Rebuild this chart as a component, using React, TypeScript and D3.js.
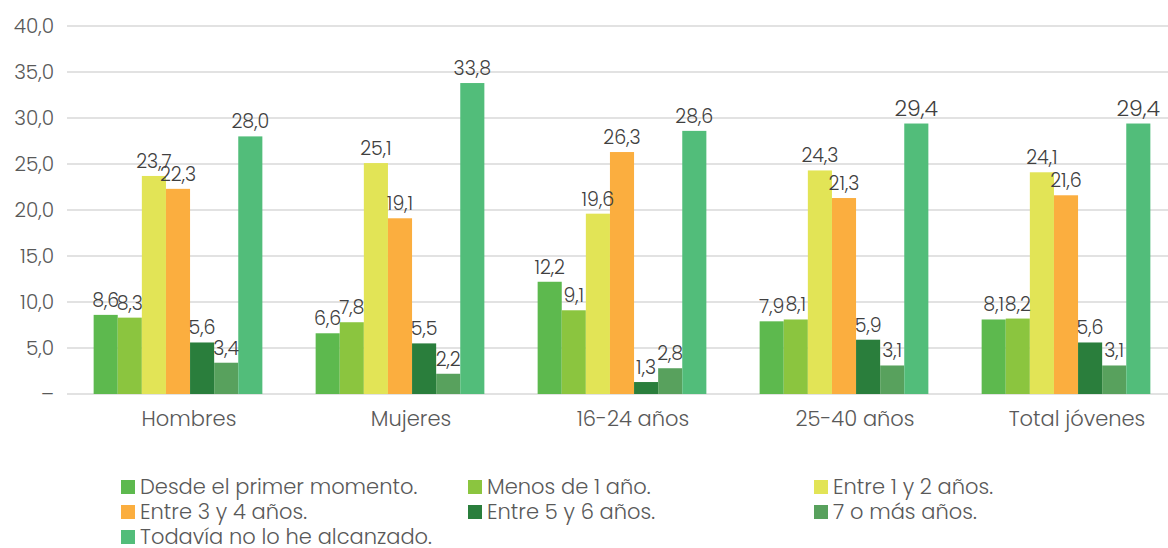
import React from "react";
import * as d3 from "d3";

const categories = ["Hombres", "Mujeres", "16-24 años", "25-40 años", "Total jóvenes"];
const seriesNames = [
  "Desde el primer momento.",
  "Menos de 1 año.",
  "Entre 1 y 2 años.",
  "Entre 3 y 4 años.",
  "Entre 5 y 6 años.",
  "7 o más años.",
  "Todavía no lo he alcanzado.",
];
const colors = ["#5DB94E", "#8BC53F", "#E2E456", "#FBAE3F", "#2A7E3C", "#58A15D", "#52BD7A"];
const desde = [8.6, 6.6, 12.2, 7.9, 8.1];
const menos1 = [8.3, 7.8, 9.1, 8.1, 8.2];
const entre12 = [23.7, 25.1, 19.6, 24.3, 24.1];
const entre34 = [22.3, 19.1, 26.3, 21.3, 21.6];
const entre56 = [5.6, 5.5, 1.3, 5.9, 5.6];
const mas7 = [3.4, 2.2, 2.8, 3.1, 3.1];
const todavia = [28.0, 33.8, 28.6, 29.4, 29.4];
const series = [desde, menos1, entre12, entre34, entre56, mas7, todavia];
const yTicks = [0, 5, 10, 15, 20, 25, 30, 35, 40];

const W = 1168;
const H = 548;
const FONT = "Poppins, 'Noto Sans', Lato, sans-serif";

export default function App() {
  const y = d3.scaleLinear().domain([0, 40]).range([394, 26]);
  const x0 = d3.scaleBand<string>().domain(categories).range([67, 1177]).paddingInner(0.24).paddingOuter(0.12);
  const x1 = d3.scaleBand<number>().domain(d3.range(7)).range([0, x0.bandwidth()]);
  const fmt = (v: number) => v.toFixed(1).replace(".", ",");

  const legendCols = [121, 468, 814];
  const legendRows = [487, 512, 537];

  return (
    <svg width={W} height={H} style={{ position: "absolute", left: 0, top: 0, background: "#fff" }} fontFamily={FONT} fontWeight={300}>
      {yTicks.map((t) => (
        <g key={t}>
          <line x1={67} x2={1168} y1={y(t)} y2={y(t)} stroke="#D9D9D9" strokeWidth={1.3} />
          <text x={54} y={y(t)} dy="0.35em" textAnchor="end" fontSize={20} fill="#595959">
            {t === 0 ? "–" : fmt(t)}
          </text>
        </g>
      ))}
      {categories.map((c, ci) => (
        <g key={c} transform={`translate(${x0(c)},0)`}>
          {series.map((s, si) => (
            <rect key={si} x={x1(si)} y={y(s[ci])} width={x1.bandwidth()} height={y(0) - y(s[ci])} fill={colors[si]} />
          ))}
          {series.map((s, si) => {
            const big = si === 6 && ci >= 3;
            return (
              <text
                key={"l" + si}
                x={(x1(si) as number) + x1.bandwidth() / 2}
                y={y(s[ci]) - 8}
                textAnchor="middle"
                fontSize={big ? 22 : 19}
                fill="#404040"
              >
                {fmt(s[ci])}
              </text>
            );
          })}
          <text x={x0.bandwidth() / 2 + 11} y={426} textAnchor="middle" fontSize={21} fill="#595959">
            {c}
          </text>
        </g>
      ))}
      {seriesNames.map((n, i) => {
        const col = i % 3;
        const row = Math.floor(i / 3);
        return (
          <g key={n} transform={`translate(${legendCols[col]},${legendRows[row]})`}>
            <rect x={0} y={-7} width={14} height={14} fill={colors[i]} />
            <text x={19} y={0} dy="0.35em" fontSize={21} fill="#595959">
              {n}
            </text>
          </g>
        );
      })}
    </svg>
  );
}
